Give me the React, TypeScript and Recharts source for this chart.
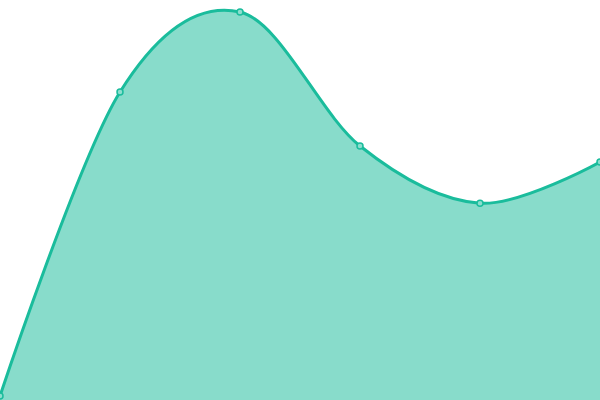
import React from 'react';
import { AreaChart, Area, XAxis, YAxis } from 'recharts';

const categories = ['A', 'B', 'C', 'D', 'E', 'F'];
const values = [1, 77, 97, 63.5, 49.2, 59.5];

const data = categories.map((c, i) => ({ name: c, value: values[i] }));

// Cardinal spline (tension 0) curve factory, compatible with d3-shape curve API
function cardinalCurve(context: any) {
  const k = 1 / 6;
  let pts: [number, number][] = [];
  let line: number = NaN;
  return {
    areaStart() { line = 0; },
    areaEnd() { line = NaN; },
    lineStart() { pts = []; },
    lineEnd() {
      const n = pts.length;
      if (n > 0) {
        if (line) context.lineTo(pts[0][0], pts[0][1]);
        else context.moveTo(pts[0][0], pts[0][1]);
        if (n === 2) {
          context.lineTo(pts[1][0], pts[1][1]);
        } else if (n > 2) {
          for (let i = 0; i < n - 1; i++) {
            const p1 = pts[i];
            const p2 = pts[i + 1];
            const p0 = i === 0 ? pts[1] : pts[i - 1];
            const p3 = i + 2 >= n ? pts[n - 2] : pts[i + 2];
            const c1x = i === 0 ? p1[0] : p1[0] + k * (p2[0] - p0[0]);
            const c1y = i === 0 ? p1[1] : p1[1] + k * (p2[1] - p0[1]);
            const c2x = i + 2 >= n ? p2[0] : p2[0] - k * (p3[0] - p1[0]);
            const c2y = i + 2 >= n ? p2[1] : p2[1] - k * (p3[1] - p1[1]);
            context.bezierCurveTo(c1x, c1y, c2x, c2y, p2[0], p2[1]);
          }
        }
      }
      if (line || (line !== 0 && n === 1)) context.closePath();
      line = 1 - line;
    },
    point(x: number, y: number) { pts.push([+x, +y]); },
  };
}

export default function App() {
  return (
    <div style={{ position: 'absolute', left: 0, top: 0 }}>
      <AreaChart width={600} height={400} data={data} margin={{ top: 0, right: 0, bottom: 0, left: 0 }}>
        <XAxis dataKey="name" hide />
        <YAxis hide domain={[0, 100]} />
        <Area
          type={cardinalCurve as any}
          dataKey="value"
          stroke="#1abc9c"
          strokeWidth={3}
          fill="#1abc9c"
          fillOpacity={0.52}
          dot={{ r: 3, fill: '#8ddece', stroke: '#1abc9c', strokeWidth: 1.5, fillOpacity: 1 }}
          activeDot={false}
          isAnimationActive={false}
        />
      </AreaChart>
    </div>
  );
}
